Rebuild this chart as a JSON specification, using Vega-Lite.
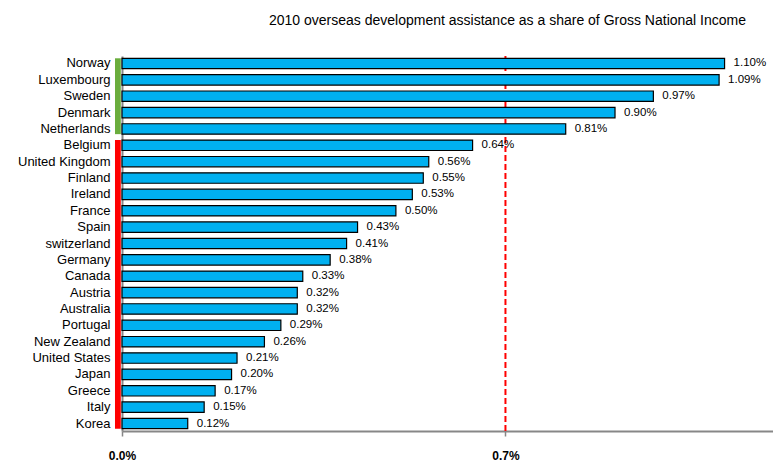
{
  "$schema": "https://vega.github.io/schema/vega-lite/v6.json",
  "width": 651,
  "height": 375,
  "autosize": "none",
  "padding": {"left": 122, "top": 56, "right": 0, "bottom": 30},
  "background": "white",
  "config": {"view": {"stroke": null}, "font": "Liberation Sans"},
  "title": {
    "text": "2010 overseas development assistance as a share of Gross National Income",
    "anchor": "middle",
    "dx": 60,
    "offset": 27,
    "fontSize": 14,
    "fontWeight": "normal",
    "font": "Liberation Sans",
    "color": "#000000"
  },
  "datasets": {
    "countries": [
      {"country": "Norway", "oda": 0.0110},
      {"country": "Luxembourg", "oda": 0.0109},
      {"country": "Sweden", "oda": 0.0097},
      {"country": "Denmark", "oda": 0.0090},
      {"country": "Netherlands", "oda": 0.0081},
      {"country": "Belgium", "oda": 0.0064},
      {"country": "United Kingdom", "oda": 0.0056},
      {"country": "Finland", "oda": 0.0055},
      {"country": "Ireland", "oda": 0.0053},
      {"country": "France", "oda": 0.0050},
      {"country": "Spain", "oda": 0.0043},
      {"country": "switzerland", "oda": 0.0041},
      {"country": "Germany", "oda": 0.0038},
      {"country": "Canada", "oda": 0.0033},
      {"country": "Austria", "oda": 0.0032},
      {"country": "Australia", "oda": 0.0032},
      {"country": "Portugal", "oda": 0.0029},
      {"country": "New Zealand", "oda": 0.0026},
      {"country": "United States", "oda": 0.0021},
      {"country": "Japan", "oda": 0.0020},
      {"country": "Greece", "oda": 0.0017},
      {"country": "Italy", "oda": 0.0015},
      {"country": "Korea", "oda": 0.0012}
    ],
    "groups": [
      {"group": "above", "first": "Norway", "last": "Netherlands", "x0": -0.000128, "x1": -0.000022},
      {"group": "below", "first": "Belgium", "last": "Korea", "x0": -0.000128, "x1": -0.000022}
    ],
    "target": [{"target": 0.007}]
  },
  "layer": [
    {
      "data": {"name": "target"},
      "mark": {"type": "rule", "color": "#FF0000", "strokeWidth": 2, "strokeDash": [6, 3]},
      "encoding": {
        "x": {"field": "target", "type": "quantitative", "scale": {"domain": [0, 0.011884], "nice": false, "zero": false}}
      }
    },
    {
      "data": {"name": "countries"},
      "mark": {"type": "bar", "fill": "#00B0F0", "stroke": "#000000", "strokeWidth": 1.2},
      "encoding": {
        "y": {
          "field": "country",
          "type": "nominal",
          "sort": null,
          "scale": {"paddingInner": 0.365, "paddingOuter": 0.14},
          "axis": {
            "title": null,
            "domain": true,
            "domainColor": "#878787",
            "domainWidth": 2,
            "ticks": false,
            "labelPadding": 12,
            "labelFontSize": 13,
            "labelColor": "#000000",
            "labelFont": "Liberation Sans"
          }
        },
        "x": {
          "field": "oda",
          "type": "quantitative",
          "scale": {"domain": [0, 0.011884], "nice": false, "zero": false},
          "axis": {
            "title": null,
            "grid": false,
            "values": [0, 0.007],
            "format": ".1%",
            "labelFlush": false,
            "domainColor": "#878787",
            "domainWidth": 2,
            "tickColor": "#878787",
            "tickSize": 5,
            "tickWidth": 1.5,
            "labelPadding": 14,
            "labelFontSize": 12,
            "labelFontWeight": "bold",
            "labelColor": "#000000",
            "labelFont": "Liberation Sans"
          }
        }
      }
    },
    {
      "data": {"name": "countries"},
      "mark": {"type": "text", "align": "left", "baseline": "middle", "dx": 9, "fontSize": 11.5, "font": "Liberation Sans", "color": "#000000"},
      "encoding": {
        "y": {"field": "country", "type": "nominal", "sort": null},
        "x": {"field": "oda", "type": "quantitative"},
        "text": {"field": "oda", "type": "quantitative", "format": ".2%"}
      }
    },
    {
      "data": {"name": "groups"},
      "mark": {"type": "rect"},
      "encoding": {
        "y": {"field": "first", "type": "nominal", "sort": null, "bandPosition": 0},
        "y2": {"field": "last", "bandPosition": 1},
        "x": {"field": "x0", "type": "quantitative"},
        "x2": {"field": "x1"},
        "color": {
          "field": "group",
          "type": "nominal",
          "scale": {"domain": ["above", "below"], "range": ["#6AAD3D", "#FF0000"]},
          "legend": null
        }
      }
    }
  ]
}
